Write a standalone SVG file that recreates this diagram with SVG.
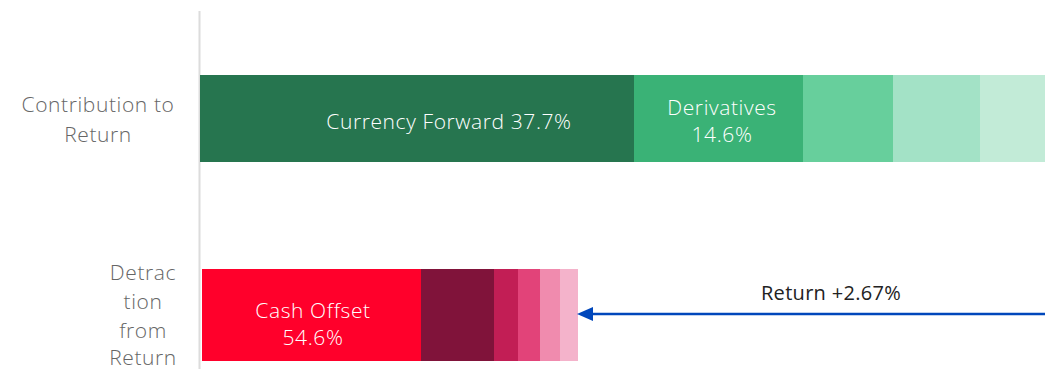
<svg xmlns="http://www.w3.org/2000/svg" width="1045" height="369" viewBox="0 0 1045 369">
<style>
.lbl,.in,.ret{font-family:"Open Sans","Noto Sans",sans-serif;font-weight:300;font-size:21px;text-anchor:middle;letter-spacing:0.6px}
.lbl{fill:#666}
.in{fill:#fff}
.ret{fill:#222;font-size:20px;font-weight:400;letter-spacing:0.3px}
</style>
<rect width="1045" height="369" fill="#fff"/>
<line x1="199.5" y1="11" x2="199.5" y2="369" stroke="#dcdcdc" stroke-width="2"/>
<g id="axis-labels">
<text class="lbl" x="98" y="112">Contribution to</text>
<text class="lbl" x="98" y="142">Return</text>
<text class="lbl" x="143" y="280">Detrac</text>
<text class="lbl" x="143" y="309">tion</text>
<text class="lbl" x="143" y="338">from</text>
<text class="lbl" x="143" y="365">Return</text>
</g>
<g id="contribution-bar">
<rect x="200" y="75" width="434" height="87" fill="#26754F"/>
<rect x="634" y="75" width="169" height="87" fill="#3AB276"/>
<rect x="803" y="75" width="90" height="87" fill="#67CF9C"/>
<rect x="893" y="75" width="87" height="87" fill="#A3E2C6"/>
<rect x="980" y="75" width="65" height="87" fill="#C2EBD7"/>
<text class="in" x="449" y="129">Currency Forward 37.7%</text>
<text class="in" x="722" y="115">Derivatives</text>
<text class="in" x="722" y="142">14.6%</text>
</g>
<g id="detraction-bar">
<rect x="202" y="269" width="219" height="92" fill="#FF002B"/>
<rect x="421" y="269" width="73" height="92" fill="#80133A"/>
<rect x="494" y="269" width="24" height="92" fill="#C21E55"/>
<rect x="518" y="269" width="22" height="92" fill="#E24379"/>
<rect x="540" y="269" width="20" height="92" fill="#F08BAE"/>
<rect x="560" y="269" width="18" height="92" fill="#F4B3CB"/>
<text class="in" x="313" y="318">Cash Offset</text>
<text class="in" x="313" y="345">54.6%</text>
</g>
<g id="connectors">
<line x1="1045" y1="314" x2="592" y2="314" stroke="#0047BB" stroke-width="2.5"/>
<path d="M577,314 L593,307 L593,321 Z" fill="#0047BB"/>
<text class="ret" x="831" y="300">Return +2.67%</text>
</g>
</svg>
